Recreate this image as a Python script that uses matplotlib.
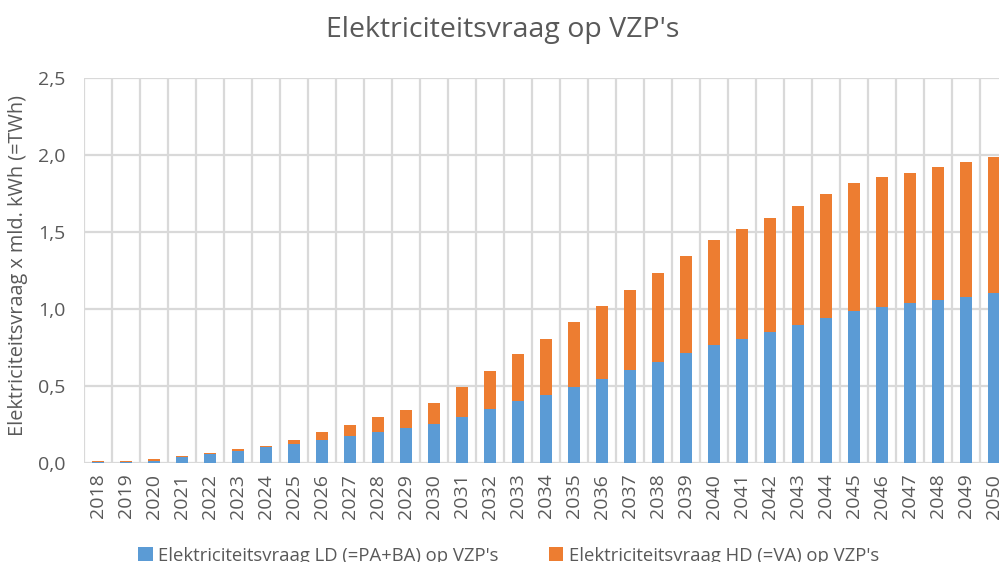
import numpy as np
import matplotlib
matplotlib.use('Agg')
import matplotlib.pyplot as plt

# Data (TWh)
years = [str(y) for y in range(2018, 2051)]
ld_values = [0.003, 0.003, 0.010, 0.034, 0.053, 0.075, 0.099, 0.120, 0.148, 0.170,
             0.200, 0.222, 0.252, 0.295, 0.346, 0.398, 0.439, 0.491, 0.543, 0.602,
             0.652, 0.711, 0.763, 0.806, 0.851, 0.895, 0.938, 0.988, 1.012, 1.036,
             1.055, 1.078, 1.101]
total_values = [0.010, 0.010, 0.020, 0.040, 0.064, 0.085, 0.108, 0.148, 0.198, 0.243,
                0.293, 0.341, 0.388, 0.491, 0.594, 0.704, 0.806, 0.915, 1.018, 1.120,
                1.233, 1.341, 1.444, 1.517, 1.590, 1.671, 1.745, 1.819, 1.854, 1.884,
                1.919, 1.956, 1.984]
hd_values = [t - l for t, l in zip(total_values, ld_values)]

label_ld = "Elektriciteitsvraag LD (=PA+BA) op VZP's"
label_hd = "Elektriciteitsvraag HD (=VA) op VZP's"

blue = '#5B9BD5'
orange = '#ED7D31'
text_col = '#595959'
grid_col = '#D9D9D9'

plt.rcParams['font.family'] = ['Open Sans', 'DejaVu Sans']

fig = plt.figure(figsize=(9.99, 5.62), dpi=100)
ax = fig.add_axes([0.084, 0.177, 0.925, 0.684])

x = np.arange(len(years))
ax.bar(x, ld_values, width=0.43, color=blue, label=label_ld, zorder=3)
ax.bar(x, hd_values, width=0.43, bottom=ld_values, color=orange, label=label_hd, zorder=3)

ax.set_xlim(-0.5, len(years) - 0.5)
ax.set_ylim(0, 2.5)
ax.set_yticks(np.arange(0, 2.51, 0.5))
ax.set_yticklabels([f'{v:.1f}'.replace('.', ',') for v in np.arange(0, 2.51, 0.5)])
ax.set_xticks(x)
ax.set_xticklabels(years, rotation=90)
ax.set_xticks(np.arange(-0.5, len(years), 1), minor=True)

ax.grid(axis='y', which='major', color=grid_col, linewidth=1.6, zorder=0)
ax.grid(axis='x', which='minor', color=grid_col, linewidth=1.6, zorder=0)
for s in ax.spines.values():
    s.set_visible(False)
ax.tick_params(axis='both', which='both', length=0, colors=text_col, labelsize=14)
ax.tick_params(axis='x', pad=8)
ax.tick_params(axis='y', pad=13)

fig.text(0.503, 0.947, "Elektriciteitsvraag op VZP's", ha='center', va='center',
         fontsize=20.5, color=text_col)
fig.text(0.018, 0.528, 'Elektriciteitsvraag x mld. kWh (=TWh)', rotation=90,
         ha='center', va='center', fontsize=14.3, color=text_col)

leg = fig.legend(loc='center', bbox_to_anchor=(0.509, 0.011), ncol=2, frameon=False,
                 fontsize=13.3, handlelength=0.8, handleheight=0.8, handletextpad=0.3,
                 columnspacing=2.7, labelcolor=text_col)

fig.savefig('out.png', dpi=100)
